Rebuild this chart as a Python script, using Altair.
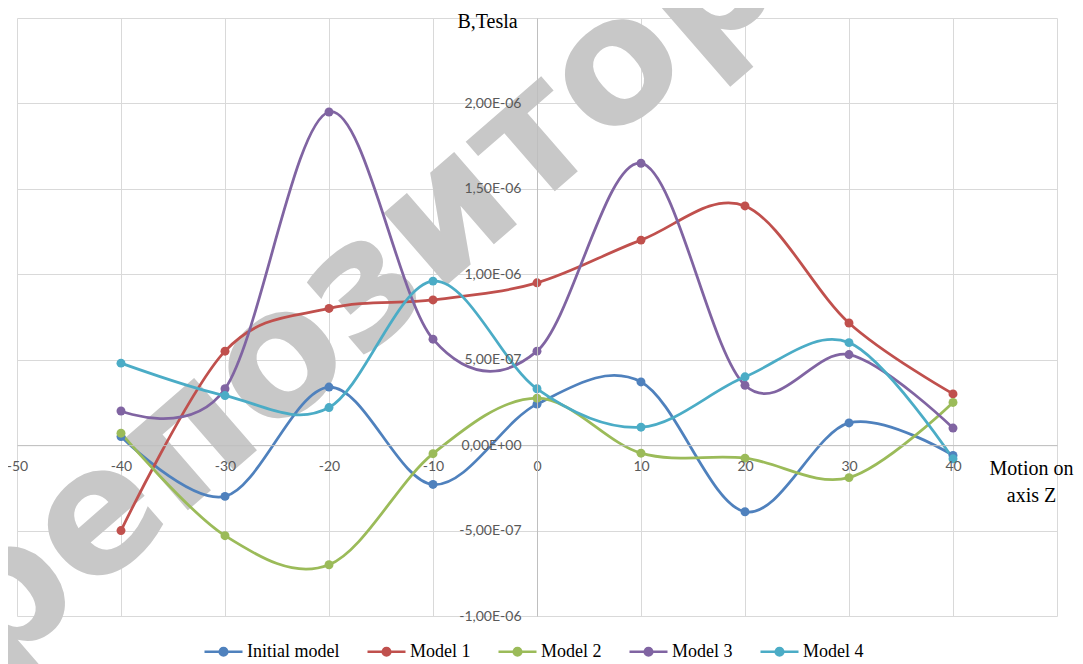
import altair as alt
import pandas as pd

# ---- data ----
z_positions = [-40, -30, -20, -10, 0, 10, 20, 30, 40]
series_names = ["Initial model", "Model 1", "Model 2", "Model 3", "Model 4"]
initial_model = [0.05e-6, -0.30e-6, 0.34e-6, -0.23e-6, 0.24e-6, 0.37e-6, -0.39e-6, 0.13e-6, -0.06e-6]
model_1 = [-0.50e-6, 0.55e-6, 0.80e-6, 0.85e-6, 0.95e-6, 1.20e-6, 1.40e-6, 0.715e-6, 0.30e-6]
model_2 = [0.07e-6, -0.53e-6, -0.70e-6, -0.05e-6, 0.275e-6, -0.047e-6, -0.076e-6, -0.19e-6, 0.25e-6]
model_3 = [0.20e-6, 0.33e-6, 1.95e-6, 0.62e-6, 0.55e-6, 1.65e-6, 0.35e-6, 0.53e-6, 0.10e-6]
model_4 = [0.48e-6, 0.29e-6, 0.22e-6, 0.96e-6, 0.33e-6, 0.105e-6, 0.40e-6, 0.60e-6, -0.08e-6]
series_colors = ["#4F81BD", "#C0504D", "#9BBB59", "#8064A2", "#4BACC6"]

x_ticks = [-50, -40, -30, -20, -10, 0, 10, 20, 30, 40, 50]
x_tick_labels = ["-50", "-40", "-30", "-20", "-10", "0", "10", "20", "30", "40", ""]
y_ticks = [-1.0e-6, -0.5e-6, 0.0, 0.5e-6, 1.0e-6, 1.5e-6, 2.0e-6, 2.5e-6]
y_tick_labels = ["-1,00E-06", "-5,00E-07", "0,00E+00", "5,00E-07", "1,00E-06", "1,50E-06", "2,00E-06", ""]
y_title = "B,Tesla"
x_title = ["Motion on", "axis Z"]
watermark_text = ["репозиторий"]

all_series = [initial_model, model_1, model_2, model_3, model_4]
rows = []
for name, vals in zip(series_names, all_series):
    for zz, v in zip(z_positions, vals):
        rows.append({"z": zz, "B": v, "series": name})
df = pd.DataFrame(rows)

W, H = 1040, 598
x_dom = [-50, 50]
y_dom = [-1.0e-6, 2.5e-6]
x_axis_offset = -H * (0 - y_dom[0]) / (y_dom[1] - y_dom[0])
y_axis_offset = -W * (0 - x_dom[0]) / (x_dom[1] - x_dom[0])

x_label_expr = "[" + ",".join("'%s'" % s for s in x_tick_labels) + "][round(datum.value/10)+5]"
y_label_expr = "[" + ",".join("'%s'" % s for s in y_tick_labels) + "][round(datum.value*2e6)+2]"

legend_path = (
    "M-1,0H1"
    "M0.2,0A0.2,0.2,0,1,1,-0.2,0A0.2,0.2,0,1,1,0.2,0"
    "M0.12,0A0.12,0.12,0,1,1,-0.12,0A0.12,0.12,0,1,1,0.12,0"
    "M0.05,0A0.05,0.05,0,1,1,-0.05,0A0.05,0.05,0,1,1,0.05,0"
)

color_enc = alt.Color(
    "series:N",
    scale=alt.Scale(domain=series_names, range=series_colors),
    legend=alt.Legend(
        title=None,
        orient="none",
        legendX=186,
        legendY=613,
        direction="horizontal",
        columns=5,
        symbolType=legend_path,
        symbolSize=1444,
        symbolStrokeWidth=2.5,
        symbolOpacity=1,
        labelFont="Liberation Serif",
        labelFontSize=18,
        labelColor="#000000",
        labelOffset=3,
        columnPadding=22,
        labelLimit=0,
    ),
)

base = alt.Chart(df)

# watermark behind the series
watermark = alt.Chart(pd.DataFrame({"t": watermark_text})).mark_text(
    font="DejaVu Sans", fontWeight="bold", fontSize=175, angle=319,
    align="center", baseline="middle", color="#C8C8C8",
).encode(text="t:N", x=alt.value(432), y=alt.value(195))

# grid layer (axes without offset give the grid and the titles)
lines = base.mark_line(interpolate="cardinal", strokeWidth=2.75).encode(
    x=alt.X(
        "z:Q",
        scale=alt.Scale(domain=x_dom, nice=False, zero=False),
        axis=alt.Axis(
            orient="bottom", values=x_ticks, grid=True, gridColor="#D9D9D9", gridWidth=1,
            labels=False, ticks=False, domain=False,
            title=x_title, titleX=1014, titleY=-142, titleAlign="center",
            titleBaseline="alphabetic", titleFont="Liberation Serif", titleFontSize=20,
            titleFontWeight="normal", titleColor="#000000", titleLineHeight=27,
        ),
    ),
    y=alt.Y(
        "B:Q",
        scale=alt.Scale(domain=y_dom, nice=False, zero=False),
        axis=alt.Axis(
            orient="left", values=y_ticks, grid=True, gridColor="#D9D9D9", gridWidth=1,
            labels=False, ticks=False, domain=False,
            title=y_title, titleAngle=0, titleX=470, titleY=3, titleAlign="center",
            titleBaseline="middle", titleFont="Liberation Serif", titleFontSize=20,
            titleFontWeight="normal", titleColor="#000000",
        ),
    ),
    color=color_enc,
    order=alt.Order("z:Q"),
)

# points layer (axes crossing at zero with labels)
points = base.mark_point(filled=True, size=80, opacity=1).encode(
    x=alt.X(
        "z:Q",
        axis=alt.Axis(
            orient="bottom", offset=x_axis_offset, values=x_ticks, grid=False,
            ticks=False, domain=True, domainColor="#BFBFBF", domainWidth=1,
            labelExpr=x_label_expr, labelFont="Lato", labelFontSize=14,
            labelColor="#595959", labelPadding=14, labelFlush=False,
            labelOverlap=False, title=None, zindex=1,
        ),
    ),
    y=alt.Y(
        "B:Q",
        axis=alt.Axis(
            orient="left", offset=y_axis_offset, values=y_ticks, grid=False,
            ticks=False, domain=True, domainColor="#BFBFBF", domainWidth=1,
            labelExpr=y_label_expr, labelFont="Lato", labelFontSize=14,
            labelColor="#595959", labelPadding=16, labelFlush=False,
            labelOverlap=False, title=None, zindex=1,
        ),
    ),
    color=alt.Color("series:N", scale=alt.Scale(domain=series_names, range=series_colors)),
)

chart = (
    alt.layer(watermark, lines, points)
    .resolve_axis(x="independent", y="independent")
    .properties(
        width=W,
        height=H,
        autosize=alt.AutoSizeParams(type="none"),
        padding={"left": 9, "top": 10, "right": 18, "bottom": 48},
        background="#FFFFFF",
    )
    .configure_view(stroke=None)
)

chart.save("out.html", embed_options={"renderer": "svg", "actions": False})
